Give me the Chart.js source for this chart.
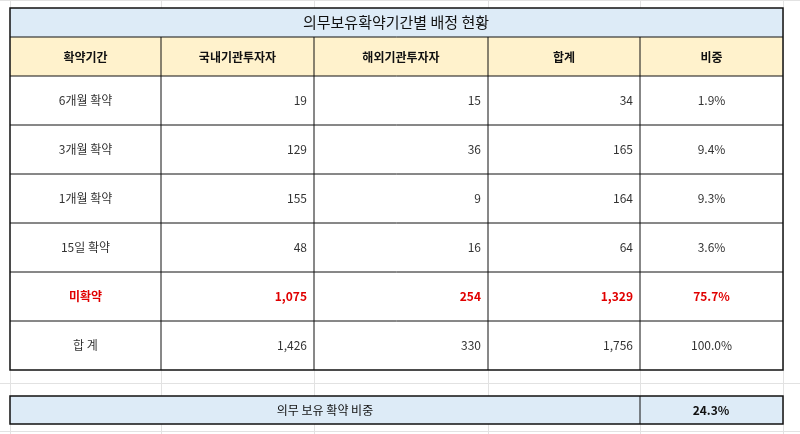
<!DOCTYPE html>
<html>
<head>
<meta charset="utf-8">
<script src="https://cdn.jsdelivr.net/npm/chart.js@4"></script>
<style>
  html, body { margin: 0; padding: 0; background: #fff; }
  #wrap { width: 800px; height: 434px; }
</style>
</head>
<body>
<div id="wrap"><canvas id="tabla"></canvas></div>
<script>
const titulo = '의무보유확약기간별 배정 현황';
const columnas = ['확약기간', '국내기관투자자', '해외기관투자자', '합계', '비중'];
const periodos = ['6개월 확약', '3개월 확약', '1개월 확약', '15일 확약', '미확약', '합 계'];
const domestico = [19, 129, 155, 48, 1075, 1426];
const extranjero = [15, 36, 9, 16, 254, 330];
const total = [34, 165, 164, 64, 1329, 1756];
const peso = [1.9, 9.4, 9.3, 3.6, 75.7, 100.0];
const pieTexto = '의무 보유 확약 비중';
const pieValor = 24.3;

const colX = [10, 161, 314, 488, 640, 783];
const fuente = '"Noto Sans CJK KR", "Noto Sans", sans-serif';

const dibujarTabla = {
  id: 'dibujarTabla',
  afterDraw(chart) {
    const c = chart.ctx;
    c.save();
    // cuadricula de fondo tipo hoja de calculo
    c.strokeStyle = '#e2e2e2';
    c.lineWidth = 1;
    [0, 383, 431].forEach(y => { c.beginPath(); c.moveTo(0, y + 0.5); c.lineTo(800, y + 0.5); c.stroke(); });
    colX.forEach(x => { c.beginPath(); c.moveTo(x + 0.5, 0); c.lineTo(x + 0.5, 434); c.stroke(); });

    const filaY = [8, 37, 76, 125, 174, 223, 272, 321, 370];
    // titulo
    c.fillStyle = '#ddebf7';
    c.fillRect(10, 8, 773, 29);
    c.fillStyle = '#fff2cc';
    c.fillRect(10, 37, 773, 39);
    c.fillStyle = '#fff';
    c.fillRect(10, 76, 773, 294);

    c.strokeStyle = '#111';
    c.lineWidth = 1.5;
    c.strokeRect(10, 8, 773, 362);
    c.lineWidth = 1;
    filaY.slice(1, -1).forEach(y => { c.beginPath(); c.moveTo(10, y); c.lineTo(783, y); c.stroke(); });
    colX.slice(1, -1).forEach(x => { c.beginPath(); c.moveTo(x, 37); c.lineTo(x, 370); c.stroke(); });

    c.textBaseline = 'middle';
    c.fillStyle = '#111';
    c.font = '15px ' + fuente;
    c.textAlign = 'center';
    c.fillText(titulo, 396, 22);

    c.font = 'bold 12px ' + fuente;
    columnas.forEach((t, i) => c.fillText(t, (colX[i] + colX[i + 1]) / 2, 57));

    const fmt = v => v.toLocaleString('en-US');
    periodos.forEach((p, r) => {
      const y = (filaY[r + 2] + filaY[r + 3]) / 2;
      const rojo = p === '미확약';
      c.fillStyle = rojo ? '#e00000' : '#333';
      c.font = (rojo ? 'bold ' : '') + '12px ' + fuente;
      c.textAlign = 'center';
      c.fillText(p, (colX[0] + colX[1]) / 2, y);
      c.textAlign = 'right';
      c.fillText(fmt(domestico[r]), colX[2] - 7, y);
      c.fillText(fmt(extranjero[r]), colX[3] - 7, y);
      c.fillText(fmt(total[r]), colX[4] - 7, y);
      c.textAlign = 'center';
      c.fillText(peso[r].toFixed(1) + '%', (colX[4] + colX[5]) / 2, y);
    });

    // recuadro inferior
    c.fillStyle = '#ddebf7';
    c.fillRect(10, 396, 773, 28);
    c.strokeStyle = '#111';
    c.lineWidth = 1.5;
    c.strokeRect(10, 396, 773, 28);
    c.lineWidth = 1;
    c.beginPath(); c.moveTo(640, 396); c.lineTo(640, 424); c.stroke();
    c.fillStyle = '#111';
    c.font = '12px ' + fuente;
    c.textAlign = 'center';
    c.fillText(pieTexto, 325, 410);
    c.font = 'bold 12px ' + fuente;
    c.fillText(pieValor.toFixed(1) + '%', 711, 410);
    c.restore();
  }
};

new Chart(document.getElementById('tabla'), {
  type: 'bar',
  data: { labels: periodos, datasets: [{ data: total, hidden: true }] },
  options: {
    responsive: true,
    maintainAspectRatio: false,
    animation: false,
    events: [],
    plugins: { legend: { display: false }, tooltip: { enabled: false } },
    scales: { x: { display: false }, y: { display: false } }
  },
  plugins: [dibujarTabla]
});
</script>
</body>
</html>
